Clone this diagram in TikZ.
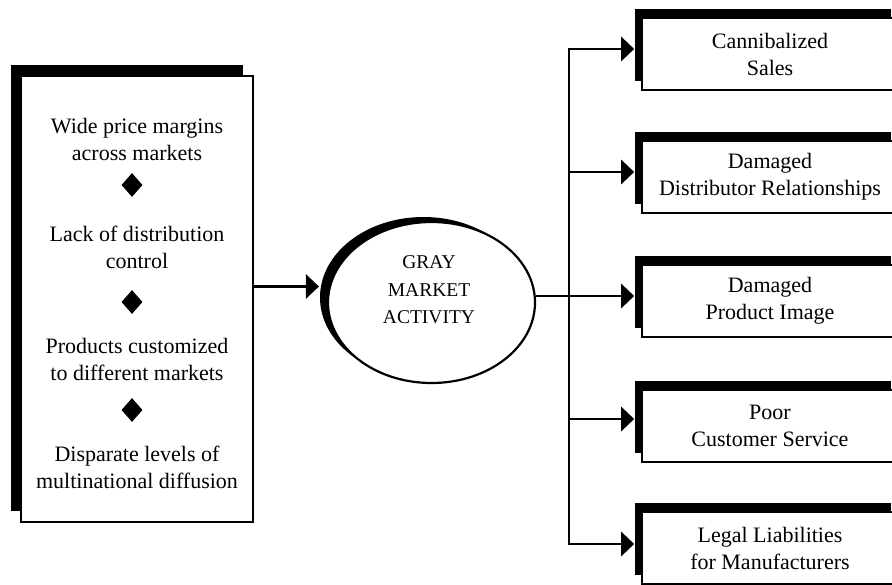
\documentclass[tikz,border=0pt]{standalone}
\usepackage{fontspec}
\setmainfont{Liberation Serif}
\usetikzlibrary{arrows.meta,shadows,shapes.geometric,calc}
\begin{document}
\begin{tikzpicture}[x=1pt,y=-1pt,
  conn/.style={line width=2.8pt,-{Triangle[length=13pt,width=24pt]}},
  leftbox/.style={draw,line width=1.6pt,fill=white,minimum width=232pt,minimum height=446pt,inner sep=0pt,
    general shadow={fill=black,shadow xshift=-10.5pt,shadow yshift=11pt}},
  rbox/.style={draw,line width=1.6pt,fill=white,minimum width=256pt,minimum height=72pt,inner sep=0pt,
    align=center,font=\fontsize{22}{27}\selectfont,
    general shadow={fill=black,shadow xshift=-7pt,shadow yshift=9pt}},
  ltext/.style={align=center,font=\fontsize{22}{27}\selectfont,inner sep=0pt},
  dia/.style={diamond,fill=black,inner sep=0pt,minimum width=21pt,minimum height=24pt},
  ell/.style={ellipse,draw,line width=2.2pt,fill=white,minimum width=207pt,minimum height=161pt,inner sep=0pt,
    general shadow={fill=black,shadow xshift=-8pt,shadow yshift=5pt}},
  etext/.style={align=center,font=\fontsize{19.5}{27.5}\selectfont,inner sep=0pt}
]
\useasboundingbox (0,0) rectangle (892,585);
\clip (0,0) rectangle (892,585);

% left box
\node[leftbox] (L) at (137,299) {};
\node[ltext] (l1) at (137,139) {Wide price margins\\across markets};
\node[dia] (d1) at (132,185) {};
\node[ltext] (l2) at (137,247) {Lack of distribution\\control};
\node[dia] (d2) at (132,302) {};
\node[ltext] (l3) at (137,359) {Products customized\\to different markets};
\node[dia] (d3) at (132,410) {};
\node[ltext] (l4) at (137,467) {Disparate levels of\\multinational diffusion};

% ellipse
\node[ell] (E) at (431.5,302.5) {};
\node[etext] (Et) at (429,290) {GRAY\\MARKET\\ACTIVITY};

% right boxes
\node[rbox] (b1) at (770,54) {Cannibalized\\Sales};
\node[rbox] (b2) at (770,177) {Damaged\\Distributor Relationships};
\node[rbox] (b3) at (770,301) {Damaged\\Product Image};
\node[rbox] (b4) at (770,426) {Poor\\Customer Service};
\node[rbox] (b5) at (770,548) {Legal Liabilities\\for Manufacturers};

% connectors
\coordinate (ein) at ([xshift=-8pt,yshift=16pt]E.west);
\draw[conn] (L.east |- ein) -- (ein);

\coordinate (vx) at (569,0);
\coordinate (a1) at ([xshift=-7pt,yshift=5pt]b1.west);
\coordinate (a2) at ([xshift=-7pt,yshift=5pt]b2.west);
\coordinate (a3) at ([xshift=-7pt,yshift=5pt]b3.west);
\coordinate (a4) at ([xshift=-7pt,yshift=7pt]b4.west);
\coordinate (a5) at ([xshift=-7pt,yshift=4pt]b5.west);

\draw[conn] (vx |- a5) |- (a1);
\draw[conn] (vx |- a1) |- (a5);
\draw[conn] (vx |- a2) -- (a2);
\draw[conn] (vx |- a4) -- (a4);
\draw[conn] (E.east |- a3) -- (a3);
\end{tikzpicture}
\end{document}
